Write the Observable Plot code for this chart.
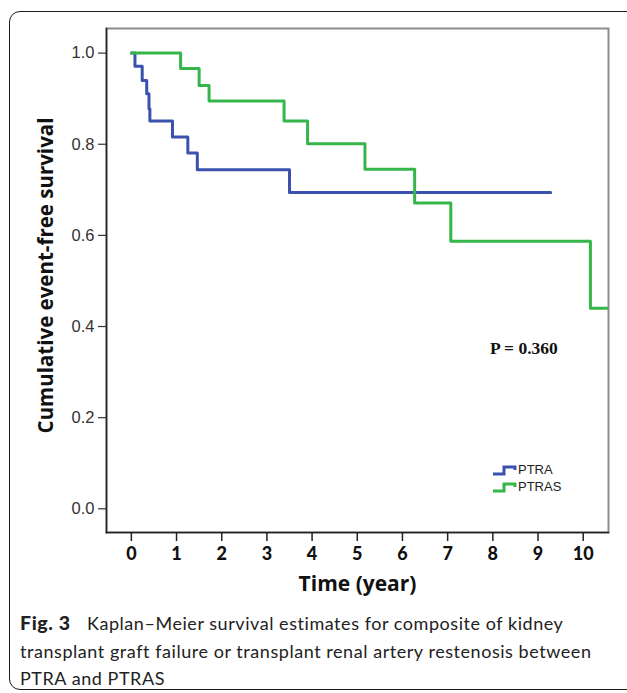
<!DOCTYPE html>
<html>
<head>
<meta charset="utf-8">
<script src="https://cdn.jsdelivr.net/npm/d3@7"></script>
<script src="https://cdn.jsdelivr.net/npm/@observablehq/plot@0.6"></script>
<style>
  html, body { margin: 0; padding: 0; background: #fff; }
  #wrap { position: relative; width: 627px; height: 693px; overflow: hidden; }
  #frame { position: absolute; left: 9px; top: 11px; width: 640px; height: 679px;
           border: 1.5px solid #1a1a1a; border-radius: 11px; box-sizing: border-box; }
  #chart { position: absolute; left: 0; top: 0; }
  #pval { position: absolute; left: 490px; top: 338px; font-family: "Liberation Serif", serif;
          font-weight: bold; font-size: 17.5px; color: #111; }
  #legend { position: absolute; left: 492px; top: 461px; font-family: "Liberation Sans", Arial, sans-serif;
            font-size: 13px; color: #222; line-height: 17px; }
  #legend div { display: flex; align-items: center; height: 17px; }
  #legend svg { margin-right: 1px; }
  #caption { position: absolute; left: 20px; top: 609px; font-family: Lato, sans-serif;
             font-size: 18px; letter-spacing: 0.55px; line-height: 27.5px; color: #222; white-space: nowrap; }
  #caption b { display: inline-block; width: 67px; font-size: 19.5px; font-weight: 900; letter-spacing: 0.6px; }
</style>
</head>
<body>
<div id="wrap">
  <div id="chart"></div>
  <div id="pval"></div>
  <div id="legend"></div>
  <div id="caption"></div>
  <div id="frame"></div>
</div>
<script>
// Data
const groups = ["PTRA", "PTRAS"];
const groupColors = ["#3a52ad", "#36b64a"];
const ptraTime = [0, 0.08, 0.24, 0.34, 0.39, 0.41, 0.91, 1.25, 1.46, 3.50, 9.28];
const ptraSurv = [1.0, 0.971, 0.940, 0.911, 0.878, 0.851, 0.816, 0.781, 0.744, 0.694, 0.694];
const ptrasTime = [0, 1.09, 1.50, 1.72, 3.38, 3.90, 5.17, 6.27, 7.07, 10.16, 10.6];
const ptrasSurv = [1.0, 0.966, 0.929, 0.895, 0.851, 0.801, 0.745, 0.671, 0.587, 0.440, 0.440];
const xTicks = [0, 1, 2, 3, 4, 5, 6, 7, 8, 9, 10];
const yTicks = [0, 0.2, 0.4, 0.6, 0.8, 1.0];
const xLabel = "Time (year)";
const yLabel = "Cumulative event-free survival";
const pText = "P = 0.360";
const captionBold = "Fig. 3";
const captionLines = [
  "Kaplan–Meier survival estimates for composite of kidney",
  "transplant graft failure or transplant renal artery restenosis between",
  "PTRA and PTRAS"
];

const data = [
  ...ptraTime.map((t, i) => ({time: t, surv: ptraSurv[i], group: groups[0]})),
  ...ptrasTime.map((t, i) => ({time: t, surv: ptrasSurv[i], group: groups[1]}))
];

const chart = Plot.plot({
  width: 627,
  height: 610,
  marginLeft: 106,
  marginRight: 19,
  marginTop: 28,
  marginBottom: 78,
  style: {background: "transparent", overflow: "visible"},
  x: {domain: [-0.55, 10.56]},
  y: {domain: [-0.052, 1.054]},
  color: {domain: groups, range: groupColors},
  marks: [
    Plot.frame({stroke: "#8c8c8c", strokeWidth: 2}),
    Plot.line(data, {x: "time", y: "surv", z: "group", stroke: "group", curve: "step-after",
      strokeWidth: 3, clip: true}),
    Plot.frame({anchor: "left", stroke: "#222", strokeWidth: 1.5}),
    Plot.frame({anchor: "bottom", stroke: "#222", strokeWidth: 1.5}),
    Plot.axisX({ticks: xTicks, tickSize: 9, tickPadding: 6, label: null,
      fontSize: 18, fontWeight: 900, fontFamily: "Lato, sans-serif", fill: "#111",
      stroke: "#222", strokeWidth: 1.5}),
    Plot.axisY({ticks: yTicks, tickFormat: d3.format(".1f"), tickSize: 8, tickPadding: 4,
      label: null, fontSize: 16.5, fontFamily: "Liberation Sans, Arial, sans-serif", fill: "#333",
      stroke: "#333", strokeWidth: 1.2}),
    Plot.text([xLabel], {frameAnchor: "bottom", dy: 58, text: d => d, fontSize: 21,
      fontWeight: "bold", fontFamily: "Open Sans, sans-serif", fill: "#111"}),
    Plot.text([yLabel], {frameAnchor: "left", dx: -60, dy: -5, rotate: -90, textAnchor: "middle",
      text: d => d, fontSize: 20.5, fontWeight: "bold", fontFamily: "Open Sans, sans-serif", fill: "#111"})
  ]
});
document.getElementById("chart").appendChild(chart);

document.getElementById("pval").textContent = pText;

const legend = document.getElementById("legend");
groups.forEach((g, i) => {
  const row = document.createElement("div");
  row.innerHTML = `<svg width="25" height="12"><path d="M1 10 H12 V3 H23 V6" fill="none" stroke="${groupColors[i]}" stroke-width="3"/></svg><span>${g}</span>`;
  legend.appendChild(row);
});

document.getElementById("caption").innerHTML =
  `<b>${captionBold}</b>${captionLines[0]}<br>${captionLines[1]}<br>${captionLines[2]}`;
</script>
</body>
</html>
